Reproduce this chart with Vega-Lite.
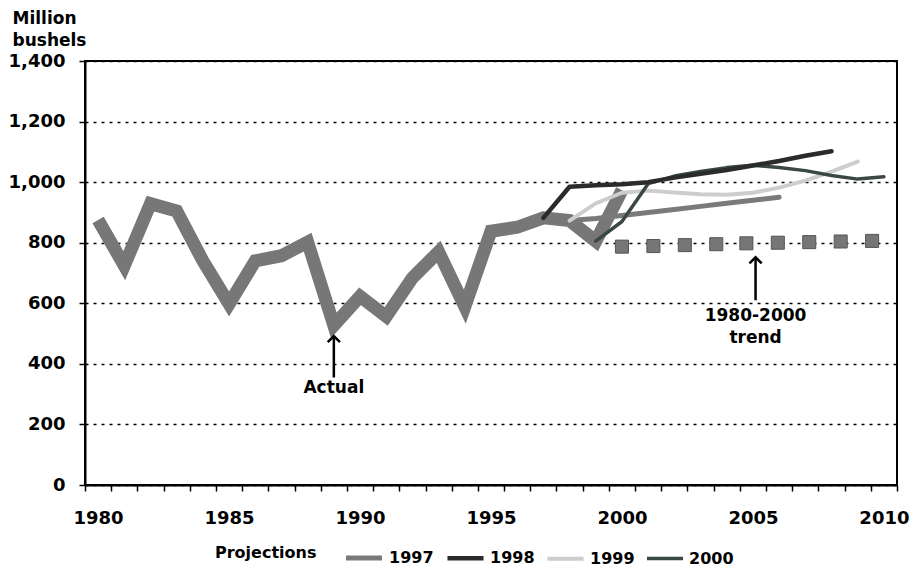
{
  "$schema": "https://vega.github.io/schema/vega-lite/v6.json",
  "width": 812,
  "height": 424,
  "autosize": "none",
  "padding": {"left": 85, "top": 61, "right": 16, "bottom": 86},
  "background": "white",
  "config": {
    "font": "DejaVu Sans",
    "view": {"stroke": "black", "strokeWidth": 2},
    "axis": {"labelFont": "DejaVu Sans", "labelFontWeight": "bold", "labelFontSize": 18, "labelColor": "black", "titleFont": "DejaVu Sans"}
  },
  "datasets": {
    "actual": [
      {"year": 1980, "value": 875}, {"year": 1981, "value": 724}, {"year": 1982, "value": 929},
      {"year": 1983, "value": 905}, {"year": 1984, "value": 740}, {"year": 1985, "value": 598},
      {"year": 1986, "value": 740}, {"year": 1987, "value": 757}, {"year": 1988, "value": 802},
      {"year": 1989, "value": 527}, {"year": 1990, "value": 623}, {"year": 1991, "value": 557},
      {"year": 1992, "value": 684}, {"year": 1993, "value": 770}, {"year": 1994, "value": 589},
      {"year": 1995, "value": 838}, {"year": 1996, "value": 851}, {"year": 1997, "value": 882},
      {"year": 1998, "value": 873}, {"year": 1999, "value": 805}, {"year": 2000, "value": 973}
    ],
    "proj": [
      {"series": "1997", "year": 1998, "value": 873}, {"series": "1997", "year": 1999, "value": 880},
      {"series": "1997", "year": 2000, "value": 890}, {"series": "1997", "year": 2001, "value": 900},
      {"series": "1997", "year": 2002, "value": 910}, {"series": "1997", "year": 2003, "value": 920},
      {"series": "1997", "year": 2004, "value": 930}, {"series": "1997", "year": 2005, "value": 940},
      {"series": "1997", "year": 2006, "value": 950},
      {"series": "1999", "year": 1998, "value": 873}, {"series": "1999", "year": 1999, "value": 930},
      {"series": "1999", "year": 2000, "value": 965}, {"series": "1999", "year": 2001, "value": 972},
      {"series": "1999", "year": 2002, "value": 966}, {"series": "1999", "year": 2003, "value": 960},
      {"series": "1999", "year": 2004, "value": 958}, {"series": "1999", "year": 2005, "value": 965},
      {"series": "1999", "year": 2006, "value": 982}, {"series": "1999", "year": 2007, "value": 1005},
      {"series": "1999", "year": 2008, "value": 1035}, {"series": "1999", "year": 2009, "value": 1068},
      {"series": "2000", "year": 1999, "value": 805}, {"series": "2000", "year": 2000, "value": 870},
      {"series": "2000", "year": 2001, "value": 995}, {"series": "2000", "year": 2002, "value": 1020},
      {"series": "2000", "year": 2003, "value": 1035}, {"series": "2000", "year": 2004, "value": 1048},
      {"series": "2000", "year": 2005, "value": 1056}, {"series": "2000", "year": 2006, "value": 1048},
      {"series": "2000", "year": 2007, "value": 1038}, {"series": "2000", "year": 2008, "value": 1022},
      {"series": "2000", "year": 2009, "value": 1010}, {"series": "2000", "year": 2010, "value": 1018},
      {"series": "1998", "year": 1997, "value": 882}, {"series": "1998", "year": 1998, "value": 985},
      {"series": "1998", "year": 1999, "value": 990}, {"series": "1998", "year": 2000, "value": 993},
      {"series": "1998", "year": 2001, "value": 1000}, {"series": "1998", "year": 2002, "value": 1015},
      {"series": "1998", "year": 2003, "value": 1028}, {"series": "1998", "year": 2004, "value": 1040},
      {"series": "1998", "year": 2005, "value": 1055}, {"series": "1998", "year": 2006, "value": 1070},
      {"series": "1998", "year": 2007, "value": 1087}, {"series": "1998", "year": 2008, "value": 1102}
    ],
    "trend": [
      {"year": 2000.0, "value": 787}, {"year": 2001.2, "value": 789}, {"year": 2002.4, "value": 792},
      {"year": 2003.6, "value": 795}, {"year": 2004.75, "value": 798}, {"year": 2005.95, "value": 800},
      {"year": 2007.15, "value": 802}, {"year": 2008.35, "value": 804}, {"year": 2009.55, "value": 806}
    ],
    "arrows": [
      {"year": 1989, "from": 355, "to": 492},
      {"year": 2005.1, "from": 610, "to": 752}
    ],
    "notes": [
      {"year": 1989, "value": 320, "label": "Actual"},
      {"year": 2005.1, "value": 558, "label": "1980-2000"},
      {"year": 2005.1, "value": 485, "label": "trend"}
    ]
  },
  "layer": [
    {
      "data": {"name": "actual"},
      "mark": {"type": "line", "color": "#777777", "strokeWidth": 13, "strokeJoin": "miter", "strokeCap": "butt"},
      "encoding": {
        "x": {
          "field": "year", "type": "quantitative",
          "scale": {"domain": [1979.5, 2010.5], "nice": false, "zero": false},
          "axis": {
            "orient": "bottom", "title": null, "grid": false, "labels": false,
            "values": [1979.5,1980.5,1981.5,1982.5,1983.5,1984.5,1985.5,1986.5,1987.5,1988.5,1989.5,1990.5,1991.5,1992.5,1993.5,1994.5,1995.5,1996.5,1997.5,1998.5,1999.5,2000.5,2001.5,2002.5,2003.5,2004.5,2005.5,2006.5,2007.5,2008.5,2009.5,2010.5],
            "tickSize": 6, "tickColor": "black", "tickWidth": 1.5,
            "domainColor": "black", "domainWidth": 2
          }
        },
        "y": {
          "field": "value", "type": "quantitative",
          "scale": {"domain": [0, 1400], "nice": false},
          "axis": {
            "values": [0, 200, 400, 600, 800, 1000, 1200, 1400],
            "format": ",d",
            "grid": true, "gridColor": "black", "gridDash": [3, 5], "gridWidth": 1.6,
            "tickSize": 6, "tickColor": "black", "tickWidth": 1.5,
            "domainColor": "black", "domainWidth": 2,
            "labelPadding": 14,
            "title": ["Million", "bushels"],
            "titleAngle": 0, "titleAlign": "left", "titleBaseline": "alphabetic",
            "titleX": -73, "titleY": -38, "titleLineHeight": 22,
            "titleFontSize": 17, "titleFontWeight": "bold", "titleColor": "black"
          }
        }
      }
    },
    {
      "data": {"name": "proj"},
      "mark": {"type": "line", "strokeJoin": "round", "strokeCap": "round"},
      "encoding": {
        "x": {
          "field": "year", "type": "quantitative",
          "axis": {
            "orient": "bottom", "title": null, "grid": false, "ticks": false, "domain": false,
            "values": [1980, 1985, 1990, 1995, 2000, 2005, 2010],
            "format": "d", "labelPadding": 24, "labelFlush": false, "labelOverlap": false
          }
        },
        "y": {"field": "value", "type": "quantitative"},
        "color": {
          "field": "series", "type": "nominal",
          "scale": {"domain": ["1997", "1998", "1999", "2000"], "range": ["#7a7a7a", "#2b2b2b", "#cdcdcd", "#3a4843"]},
          "legend": {
            "orient": "none", "legendX": 130, "legendY": 476, "direction": "horizontal",
            "title": "Projections", "titleOrient": "left", "titleAnchor": "middle", "titleBaseline": "middle",
            "titleFontSize": 16, "titleFontWeight": "bold",
            "titleColor": "black", "titlePadding": 26, "titleFont": "DejaVu Sans",
            "symbolType": "stroke", "symbolSize": 1300, "symbolStrokeWidth": 5,
            "labelFont": "DejaVu Sans", "labelFontSize": 16, "labelFontWeight": "bold", "labelColor": "black",
            "labelOffset": 4, "columnPadding": 4
          }
        },
        "strokeWidth": {
          "field": "series", "type": "nominal",
          "scale": {"domain": ["1997", "1998", "1999", "2000"], "range": [5, 3.5, 5, 4]},
          "legend": null
        }
      }
    },
    {
      "data": {"name": "trend"},
      "mark": {"type": "point", "shape": "square", "filled": true, "size": 170, "color": "#767676", "stroke": "#555555", "strokeWidth": 1, "opacity": 1},
      "encoding": {
        "x": {"field": "year", "type": "quantitative", "axis": null},
        "y": {"field": "value", "type": "quantitative"}
      }
    },
    {
      "data": {"name": "arrows"},
      "mark": {"type": "rule", "color": "black", "strokeWidth": 2.5},
      "encoding": {
        "x": {"field": "year", "type": "quantitative", "axis": null},
        "y": {"field": "from", "type": "quantitative"},
        "y2": {"field": "to"}
      }
    },
    {
      "data": {"name": "arrows"},
      "mark": {"type": "point", "shape": "M-1,1L0,0L1,1", "filled": false, "size": 150, "color": "black", "strokeWidth": 2.5, "opacity": 1},
      "encoding": {
        "x": {"field": "year", "type": "quantitative", "axis": null},
        "y": {"field": "to", "type": "quantitative"}
      }
    },
    {
      "data": {"name": "notes"},
      "mark": {"type": "text", "font": "DejaVu Sans", "fontWeight": "bold", "fontSize": 17, "color": "black", "align": "center", "baseline": "middle"},
      "encoding": {
        "x": {"field": "year", "type": "quantitative", "axis": null},
        "y": {"field": "value", "type": "quantitative"},
        "text": {"field": "label"}
      }
    }
  ],
  "resolve": {"axis": {"x": "independent"}}
}
